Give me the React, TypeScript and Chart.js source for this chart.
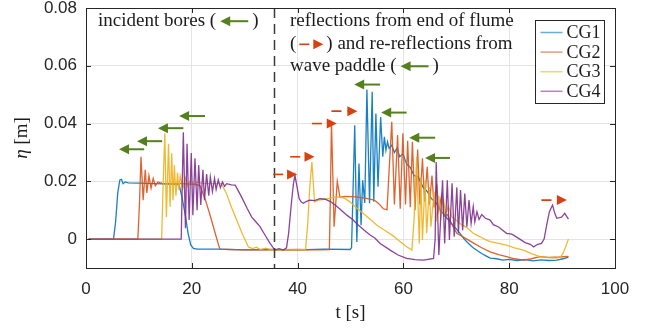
import { useEffect, useRef } from 'react';
import { Chart, registerables } from 'chart.js';

Chart.register(...registerables);

// Free-surface elevation records at the four gauges: [time (s), eta (m)]
const cg1: [number, number][] = [
  [0.5, 0], [5.2, 0], [5.6, 0.006], [6.0, 0.016], [6.4, 0.0205], [6.7, 0.0207], [7.0, 0.0192], [7.4, 0.0198],
  [8.0, 0.0195], [10.0, 0.0194], [13.0, 0.0192], [16.0, 0.019], [17.6, 0.0189], [18.2, 0.014], [18.8, 0.008],
  [19.3, 0.002], [19.8, -0.002], [20.3, -0.0032], [21.0, -0.0035], [25.0, -0.0035], [30.0, -0.0037],
  [35.0, -0.0036], [40.0, -0.0037], [45.0, -0.0035], [49.9, -0.0036], [50.2, -0.003], [50.8, 0.0394],
  [51.2, -0.001], [51.6, 0.0262], [52.0, 0.0048], [52.3, 0.0204], [52.7, 0.0125], [53.1, 0.0518],
  [53.6, 0.0124], [54.1, 0.051], [54.4, 0.0129], [54.8, 0.0435], [55.2, 0.0181], [55.7, 0.0423],
  [56.1, 0.0285], [56.4, 0.0354], [56.7, 0.0308], [57.0, 0.0337], [57.3, 0.0314], [57.8, 0.0325],
  [58.3, 0.030], [58.8, 0.0315], [59.3, 0.0285], [59.9, 0.0295], [60.6, 0.026], [61.3, 0.0248],
  [62.0, 0.022], [62.8, 0.0215], [63.7, 0.018], [64.5, 0.0165], [65.3, 0.014], [66.2, 0.0125],
  [67.0, 0.010], [67.9, 0.008], [68.8, 0.006], [69.8, 0.004], [70.7, 0.002], [71.5, 0.0], [72.3, -0.0015],
  [73.2, -0.003], [74.0, -0.004], [74.8, -0.005], [75.6, -0.0058], [76.4, -0.0066], [77.6, -0.0068],
  [78.8, -0.0073], [80.0, -0.007], [81.5, -0.0074], [83.0, -0.0071], [84.5, -0.0075], [86.0, -0.0072],
  [87.5, -0.0074], [89.0, -0.0073], [90.2, -0.0068], [91.2, -0.0062],
];

const cg2: [number, number][] = [
  [0.5, 0], [9.8, 0], [10.1, 0.012], [10.4, 0.0285], [10.8, 0.0135], [11.2, 0.024], [11.5, 0.016],
  [11.9, 0.022], [12.3, 0.0176], [12.7, 0.021], [13.1, 0.0185], [13.6, 0.0198], [14.5, 0.0192],
  [17.0, 0.0193], [20.0, 0.019], [21.5, 0.0186], [22.5, 0.014], [23.5, 0.008], [24.5, 0.0015],
  [25.3, -0.0035], [27.0, -0.0036], [30.0, -0.0037], [35.0, -0.0037], [40.0, -0.0036], [44.0, -0.0037],
  [46.0, -0.0036], [46.2, 0.015], [46.4, 0.041], [46.9, 0.0043], [47.5, 0.020], [48.0, 0.0145],
  [49.0, 0.0148], [51.0, 0.0146], [53.0, 0.0141], [54.5, 0.0135], [55.4, 0.0122], [56.2, 0.0105],
  [56.9, 0.0102], [57.8, 0.0406], [58.3, 0.012], [58.9, 0.036], [59.4, 0.0105], [59.9, 0.0366],
  [60.4, 0.012], [60.8, 0.034], [61.3, 0.011], [61.7, 0.0337], [62.2, 0.010], [62.7, 0.031],
  [63.1, 0.012], [63.6, 0.028], [64.0, 0.013], [64.5, 0.025], [64.9, 0.012], [65.4, 0.022],
  [65.8, 0.011], [66.3, 0.019], [66.7, 0.010], [67.2, 0.015], [67.7, 0.008], [68.3, 0.0085],
  [69.2, 0.005], [70.1, 0.002], [71.5, 0.0005], [73.2, -0.0013], [74.8, -0.003], [76.4, -0.0044],
  [78.0, -0.0054], [79.5, -0.0061], [81.0, -0.0068], [82.7, -0.0073], [84.2, -0.0068], [85.8, -0.0061],
  [87.5, -0.0063], [89.5, -0.0062], [91.2, -0.006],
];

const cg3: [number, number][] = [
  [0.5, 0], [14.3, 0], [14.6, 0.02], [14.9, 0.0366], [15.2, 0.0077], [15.6, 0.033], [15.9, 0.0112],
  [16.2, 0.0297], [16.45, 0.0135], [16.7, 0.0256], [17.0, 0.015], [17.3, 0.023], [17.55, 0.017],
  [17.8, 0.0218], [18.3, 0.0175], [18.8, 0.0212], [19.3, 0.0182], [19.8, 0.0205], [20.4, 0.0188],
  [21.0, 0.0198], [22.0, 0.0193], [24.0, 0.0192], [25.6, 0.0192], [26.5, 0.016], [27.5, 0.011],
  [28.5, 0.0065], [29.5, 0.002], [30.7, -0.0027], [31.5, -0.0033], [32.2, -0.0028], [33.0, -0.0036],
  [34.0, -0.0031], [35.0, -0.0037], [38.0, -0.0037], [41.5, -0.0036], [41.9, 0.005], [42.3, 0.018],
  [42.7, 0.0267], [43.2, 0.0129], [44.0, 0.0135], [45.0, 0.0138], [46.0, 0.0141], [47.0, 0.0145],
  [48.0, 0.0146], [49.0, 0.014], [49.9, 0.0129], [51.0, 0.011], [52.4, 0.0089], [53.5, 0.0072],
  [55.0, 0.0048], [56.5, 0.003], [58.0, 0.0012], [59.4, -0.0009], [60.5, -0.0025], [61.6, -0.0038],
  [62.0, 0.006], [62.5, 0.0285], [63.0, -0.0015], [63.3, 0.0216], [63.6, -0.0003], [64.1, 0.0204],
  [64.4, 0.002], [64.9, 0.018], [65.2, 0.0043], [65.8, 0.0164], [66.2, 0.006], [66.7, 0.015],
  [67.1, 0.0075], [67.6, 0.0135], [68.0, 0.0085], [68.5, 0.0115], [69.2, 0.0075], [70.0, 0.0065],
  [71.0, 0.005], [72.0, 0.004], [73.2, 0.002], [74.5, 0.0008], [75.5, -0.0002], [76.4, -0.0009],
  [78.0, -0.0015], [79.5, -0.0021], [81.0, -0.003], [82.7, -0.0038], [84.2, -0.005], [85.8, -0.0061],
  [87.3, -0.0064], [89.0, -0.0066], [89.8, -0.006], [90.3, -0.0044], [90.8, -0.002], [91.2, 0.0],
];

const cg4: [number, number][] = [
  [0.5, 0], [18.0, 0], [18.2, 0.02], [18.4, 0.037], [18.8, 0.0038], [19.1, 0.033], [19.5, 0.0066],
  [19.9, 0.0298], [20.2, 0.0083], [20.6, 0.028], [21.0, 0.010], [21.3, 0.0256], [21.7, 0.0118],
  [22.1, 0.024], [22.4, 0.0135], [22.8, 0.0225], [23.2, 0.015], [23.5, 0.0215], [23.9, 0.0165],
  [24.3, 0.021], [24.6, 0.0172], [25.0, 0.0205], [25.4, 0.0178], [25.8, 0.0198], [26.2, 0.0183],
  [26.6, 0.0192], [27.5, 0.0188], [28.2, 0.0187], [29.0, 0.016], [29.7, 0.0135], [30.5, 0.0105],
  [31.3, 0.0077], [32.1, 0.006], [32.9, 0.0043], [33.8, 0.0015], [34.8, -0.0015], [35.7, -0.0038],
  [36.5, -0.0033], [37.3, -0.0038], [37.9, -0.003], [38.3, 0.002], [38.8, 0.012], [39.2, 0.019],
  [39.5, 0.0221], [39.9, 0.018], [40.3, 0.014], [40.7, 0.0128], [41.1, 0.0124], [41.6, 0.013],
  [42.3, 0.0135], [43.2, 0.0133], [44.2, 0.014], [45.2, 0.0138], [46.2, 0.013], [47.1, 0.0118],
  [48.2, 0.0101], [49.3, 0.0083], [50.4, 0.0068], [51.5, 0.0048], [52.6, 0.0031], [53.7, 0.0014],
  [54.6, 0.0004], [55.6, -0.0015], [57.5, -0.0038], [59.0, -0.0055], [60.6, -0.0067], [62.2, -0.0071],
  [63.8, -0.0073], [65.7, -0.0067], [66.0, 0.0], [66.2, 0.0267], [66.7, -0.0055], [67.4, 0.0204],
  [67.8, -0.0015], [68.3, 0.0204], [68.7, -0.0003], [69.2, 0.0193], [69.6, 0.0008], [70.1, 0.0179],
  [70.4, 0.002], [70.8, 0.017], [71.2, 0.0031], [71.6, 0.0158], [72.0, 0.0043], [72.4, 0.0135],
  [72.8, 0.0054], [73.2, 0.0112], [73.5, 0.006], [73.9, 0.0095], [74.3, 0.0068], [74.8, 0.0085],
  [75.5, 0.0072], [76.4, 0.0066], [77.0, 0.005], [78.0, 0.0042], [79.5, 0.002], [80.5, 0.0017],
  [82.0, 0.0], [83.0, -0.0012], [84.0, -0.0018], [84.6, -0.0027], [85.4, -0.0018], [86.1, -0.0015],
  [86.6, 0.0], [87.1, 0.005], [87.6, 0.0095], [88.2, 0.0118], [88.6, 0.009], [89.0, 0.0072],
  [89.5, 0.0074], [89.9, 0.0076], [90.5, 0.0089], [91.2, 0.0069],
];

const seriesNames = ['CG1', 'CG2', 'CG3', 'CG4'];
const seriesData = [cg1, cg2, cg3, cg4];
const seriesColors = ['rgba(0,114,189,0.9)', 'rgba(217,83,25,0.9)', 'rgba(237,177,32,0.9)', 'rgba(126,47,142,0.9)'];

const xTicks = [0, 20, 40, 60, 80, 100];
const yTicks = [0, 0.02, 0.04, 0.06, 0.08];

// Time separating incident bores from reflected ones
const dividerT = 35.5;

// Bore markers pointing towards the paddle: [tip t, tail t, eta]
const leftArrows: [number, number, number][] = [
  [6.24, 11.0, 0.0311], [9.64, 14.4, 0.0339], [13.6, 18.4, 0.0384], [17.6, 22.5, 0.0426],
  [50.7, 55.6, 0.0535], [55.8, 60.6, 0.0438], [61.1, 66.0, 0.0351], [64.1, 68.8, 0.0281],
];
// Bore markers pointing towards the flume end: [tail t, tip t, eta]
const rightArrows: [number, number, number][] = [
  [35.4, 39.9, 0.0224], [38.6, 43.2, 0.0285], [42.7, 47.4, 0.040], [46.4, 51.3, 0.0443], [86.1, 90.9, 0.0135],
];

const GREEN = '#55801e';
const RED = '#d8400f';
const INK = '#262626';
const SERIF = '"Liberation Serif", "Times New Roman", serif';
const SANS = '"Liberation Sans", Arial, sans-serif';

function leftArrow(ctx: CanvasRenderingContext2D, tipX: number, tailX: number, y: number) {
  ctx.save();
  ctx.fillStyle = GREEN;
  ctx.strokeStyle = GREEN;
  ctx.lineWidth = 2;
  ctx.beginPath();
  ctx.moveTo(tipX + 8, y);
  ctx.lineTo(tailX, y);
  ctx.stroke();
  ctx.beginPath();
  ctx.moveTo(tipX, y);
  ctx.lineTo(tipX + 10, y - 5);
  ctx.lineTo(tipX + 10, y + 5);
  ctx.closePath();
  ctx.fill();
  ctx.restore();
}

function rightArrow(ctx: CanvasRenderingContext2D, tailX: number, tipX: number, y: number) {
  ctx.save();
  ctx.fillStyle = RED;
  ctx.strokeStyle = RED;
  ctx.lineWidth = 1.6;
  ctx.setLineDash([10, 6]);
  ctx.beginPath();
  ctx.moveTo(tailX, y);
  ctx.lineTo(tipX - 9, y);
  ctx.stroke();
  ctx.setLineDash([]);
  ctx.beginPath();
  ctx.moveTo(tipX, y);
  ctx.lineTo(tipX - 10, y - 5);
  ctx.lineTo(tipX - 10, y + 5);
  ctx.closePath();
  ctx.fill();
  ctx.restore();
}

type Piece = string | 'L' | 'R';

function richLine(ctx: CanvasRenderingContext2D, x0: number, baseline: number, pieces: Piece[]) {
  let x = x0;
  for (const p of pieces) {
    if (p === 'L') {
      leftArrow(ctx, x + 4, x + 32, baseline - 5);
      x += 36;
    } else if (p === 'R') {
      rightArrow(ctx, x + 3, x + 27, baseline - 5);
      x += 30;
    } else {
      ctx.fillText(p, x, baseline);
      x += ctx.measureText(p).width;
    }
  }
}

const overlay = {
  id: 'overlay',
  afterDatasetsDraw(chart: any) {
    const { ctx, chartArea: a, scales } = chart;
    const xs = scales.x;
    const ys = scales.y;
    ctx.save();

    // divider between incident and reflected bores
    const dx = Math.round(xs.getPixelForValue(dividerT)) + 0.5;
    ctx.strokeStyle = '#3a3a3a';
    ctx.lineWidth = 1.5;
    ctx.setLineDash([10, 6]);
    ctx.beginPath();
    ctx.moveTo(dx, a.top);
    ctx.lineTo(dx, a.bottom);
    ctx.stroke();
    ctx.setLineDash([]);

    // axes box with inward ticks
    ctx.strokeStyle = INK;
    ctx.lineWidth = 1;
    ctx.strokeRect(Math.round(a.left) + 0.5, Math.round(a.top) + 0.5, Math.round(a.right - a.left), Math.round(a.bottom - a.top));
    ctx.beginPath();
    for (const t of xTicks) {
      const px = Math.round(xs.getPixelForValue(t)) + 0.5;
      ctx.moveTo(px, a.bottom);
      ctx.lineTo(px, a.bottom - 5);
      ctx.moveTo(px, a.top);
      ctx.lineTo(px, a.top + 5);
    }
    for (const v of yTicks) {
      const py = Math.round(ys.getPixelForValue(v)) + 0.5;
      ctx.moveTo(a.left, py);
      ctx.lineTo(a.left + 5, py);
      ctx.moveTo(a.right, py);
      ctx.lineTo(a.right - 5, py);
    }
    ctx.stroke();

    // bore markers
    for (const [tip, tail, eta] of leftArrows) {
      leftArrow(ctx, xs.getPixelForValue(tip), xs.getPixelForValue(tail), ys.getPixelForValue(eta));
    }
    for (const [tail, tip, eta] of rightArrows) {
      rightArrow(ctx, xs.getPixelForValue(tail), xs.getPixelForValue(tip), ys.getPixelForValue(eta));
    }

    // annotation text
    ctx.fillStyle = '#1c1c1c';
    ctx.font = `19px ${SERIF}`;
    ctx.textAlign = 'left';
    ctx.textBaseline = 'alphabetic';
    richLine(ctx, xs.getPixelForValue(2.27), ys.getPixelForValue(0.0737), ['incident bores (', 'L', ')']);
    const rx = xs.getPixelForValue(38.56);
    richLine(ctx, rx, ys.getPixelForValue(0.0737), ['reflections from end of flume']);
    richLine(ctx, rx, ys.getPixelForValue(0.0657), ['(', 'R', ') and re-reflections from']);
    richLine(ctx, rx, ys.getPixelForValue(0.0581), ['wave paddle (', 'L', ')']);

    // legend
    const lw = 69;
    const lh = 83;
    const lx = Math.round(a.right - 11 - lw) + 0.5;
    const ly = Math.round(a.top + 12) + 0.5;
    ctx.fillStyle = '#ffffff';
    ctx.fillRect(lx, ly, lw, lh);
    ctx.strokeStyle = INK;
    ctx.lineWidth = 1;
    ctx.strokeRect(lx, ly, lw, lh);
    ctx.font = `18px ${SERIF}`;
    ctx.textBaseline = 'middle';
    seriesNames.forEach((name, i) => {
      const cy = ly + 12 + i * 19.6;
      ctx.strokeStyle = seriesColors[i];
      ctx.globalAlpha = 0.65;
      ctx.lineWidth = 1.5;
      ctx.beginPath();
      ctx.moveTo(lx + 5, cy);
      ctx.lineTo(lx + 27, cy);
      ctx.stroke();
      ctx.globalAlpha = 1;
      ctx.fillStyle = '#1c1c1c';
      ctx.fillText(name, lx + 31, cy + 1);
    });

    // axis titles
    ctx.textBaseline = 'alphabetic';
    ctx.textAlign = 'center';
    ctx.font = `19px ${SERIF}`;
    ctx.fillText('t [s]', (a.left + a.right) / 2, 318);

    ctx.translate(27, (a.top + a.bottom) / 2);
    ctx.rotate(-Math.PI / 2);
    ctx.font = `italic 19px ${SERIF}`;
    const etaW = ctx.measureText('η').width;
    ctx.font = `19px ${SERIF}`;
    const restW = ctx.measureText(' [m]').width;
    const start = -(etaW + restW) / 2;
    ctx.textAlign = 'left';
    ctx.font = `italic 19px ${SERIF}`;
    ctx.fillText('η', start, 0);
    ctx.font = `19px ${SERIF}`;
    ctx.fillText(' [m]', start + etaW, 0);

    ctx.restore();
  },
};

export default function App() {
  const canvasRef = useRef<HTMLCanvasElement | null>(null);

  useEffect(() => {
    const canvas = canvasRef.current;
    if (!canvas) return;
    const chart = new Chart(canvas, {
      type: 'line',
      data: {
        datasets: seriesNames.map((name, i) => ({
          label: name,
          data: seriesData[i].map(([t, eta]) => ({ x: t, y: eta })),
          borderColor: seriesColors[i],
          borderWidth: 1.3,
          pointRadius: 0,
          tension: 0,
          fill: false,
          order: seriesNames.length - 1 - i,
        })),
      },
      options: {
        responsive: false,
        animation: false,
        devicePixelRatio: 1,
        layout: { padding: { left: 0, right: 35, top: 8, bottom: 0 } },
        plugins: { legend: { display: false }, tooltip: { enabled: false } },
        scales: {
          x: {
            type: 'linear',
            min: 0,
            max: 100,
            afterBuildTicks: (s: any) => { s.ticks = xTicks.map((v) => ({ value: v })); },
            afterFit: (s: any) => { s.height = 60; s.paddingLeft = 0; s.paddingRight = 0; },
            ticks: { color: INK, font: { family: SANS, size: 17 }, padding: 11, maxRotation: 0 },
            grid: { color: '#e4e4e4', drawTicks: false },
            border: { display: false },
          },
          y: {
            type: 'linear',
            min: -0.01,
            max: 0.08,
            afterBuildTicks: (s: any) => { s.ticks = yTicks.map((v) => ({ value: v })); },
            afterFit: (s: any) => { s.width = 86; s.paddingTop = 0; s.paddingBottom = 0; },
            ticks: {
              color: INK,
              font: { family: SANS, size: 17 },
              padding: 9,
              callback: (v: any) => (Number(v) === 0 ? '0' : Number(v).toFixed(2)),
            },
            grid: { color: '#e4e4e4', drawTicks: false },
            border: { display: false },
          },
        },
      },
      plugins: [overlay],
    });
    return () => chart.destroy();
  }, []);

  return (
    <div style={{ position: 'fixed', left: 0, top: 0, width: 650, height: 328, background: '#ffffff' }}>
      <canvas ref={canvasRef} width={650} height={328} />
    </div>
  );
}
